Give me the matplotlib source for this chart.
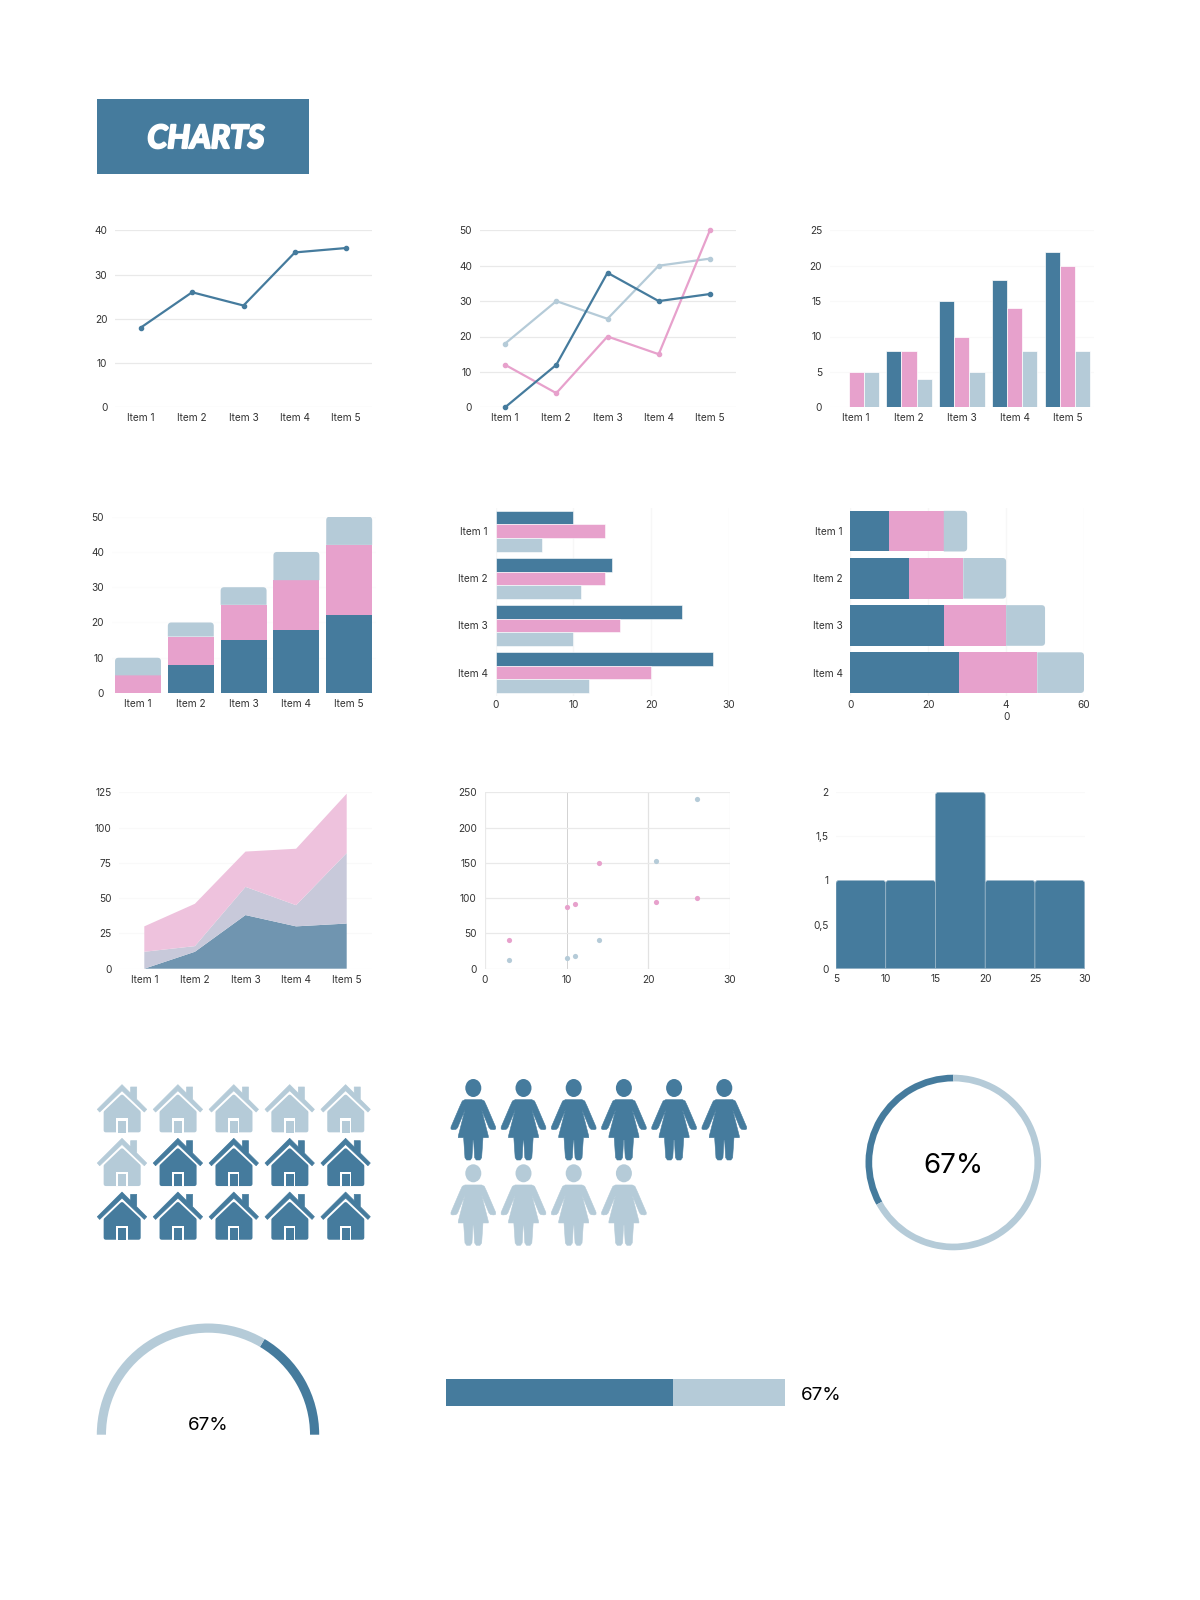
import matplotlib
matplotlib.use("Agg")
import matplotlib.pyplot as plt
import matplotlib.patheffects as pe
from matplotlib.path import Path
from matplotlib.patches import PathPatch, Polygon, Ellipse, Rectangle

W = 1200
H = 1600
DARK = "#457B9D"
PINK = "#E7A1CC"
LIGHT = "#B5CBD8"
TXT = "#333333"

plt.rcParams['font.family'] = ['Inter', 'DejaVu Sans']

items5 = ["Item 1", "Item 2", "Item 3", "Item 4", "Item 5"]
items4 = ["Item 1", "Item 2", "Item 3", "Item 4"]

single = [18, 26, 23, 35, 36]

line_dark = [0, 12, 38, 30, 32]
line_pink = [12, 4, 20, 15, 50]
line_light = [18, 30, 25, 40, 42]

col_dark = [0, 8, 15, 18, 22]
col_pink = [5, 8, 10, 14, 20]
col_light = [5, 4, 5, 8, 8]

hbar_dark = [10, 15, 24, 28]
hbar_pink = [14, 14, 16, 20]
hbar_light = [6, 11, 10, 12]

scatter_x = [3, 10, 11, 14, 21, 26]
scatter_pink = [40, 88, 92, 150, 94, 100]
scatter_light = [12, 15, 18, 40, 153, 240]

hist_left = [5, 10, 15, 20, 25]
hist_counts = [1, 1, 2, 1, 1]

house_light = 6
house_dark = 9
people_dark = 6
people_light = 4

pct_dark = 33
pct_light = 67
bar_dark = 67
bar_light = 33

fig = plt.figure(figsize=(W / 100, H / 100), dpi=100, facecolor="white")


def box(x0, y0, x1, y1):
    return fig.add_axes([x0 / W, 1 - y1 / H, (x1 - x0) / W, (y1 - y0) / H])


def style(ax, xpad=4, ypad=5.5, grid="#E9E9E9", axis="y"):
    for s in ax.spines.values():
        s.set_visible(False)
    ax.tick_params(length=0, labelsize=7.3, labelcolor=TXT)
    ax.tick_params(axis="x", pad=xpad)
    ax.tick_params(axis="y", pad=ypad)
    ax.set_axisbelow(True)
    ax.grid(True, axis=axis, color=grid, lw=0.9)


def round_end(ax, rect, r, horizontal=False):
    # swap a plain bar for one with rounded corners at its far end
    x, y = rect.get_xy()
    w = rect.get_width()
    h = rect.get_height()
    if w == 0 or h == 0:
        return
    bb = ax.get_window_extent()
    xl = ax.get_xlim()
    yl = ax.get_ylim()
    rx = r * abs(xl[1] - xl[0]) / bb.width
    ry = r * abs(yl[1] - yl[0]) / bb.height
    L = Path.LINETO
    C = Path.CURVE3
    if horizontal:
        v = [(x, y), (x + w - rx, y), (x + w, y), (x + w, y + ry), (x + w, y + h - ry),
             (x + w, y + h), (x + w - rx, y + h), (x, y + h), (x, y)]
    else:
        v = [(x + w, y), (x + w, y + h - ry), (x + w, y + h), (x + w - rx, y + h), (x + rx, y + h),
             (x, y + h), (x, y + h - ry), (x, y), (x + w, y)]
    codes = [Path.MOVETO, L, C, C, L, C, C, L, Path.CLOSEPOLY]
    ax.add_patch(PathPatch(Path(v, codes), fc=rect.get_facecolor(), ec=rect.get_edgecolor(),
                           lw=rect.get_linewidth(), zorder=rect.get_zorder()))
    rect.set_visible(False)


# background layer in pixel coordinates
bg = fig.add_axes([0, 0, 1, 1])
bg.set_xlim(0, W)
bg.set_ylim(H, 0)
bg.axis("off")

bg.add_patch(Rectangle((96.7, 99.3), 212, 74.7, fc=DARK, ec="none"))
title = bg.text(206, 138.5, "CHARTS", color="white", fontsize=23, family="Lato", weight="bold",
                style="italic", ha="center", va="center")
title.set_path_effects([pe.withStroke(linewidth=1.6, foreground="white")])

# 1 single line
ax = box(115, 230.3, 372, 407.3)
style(ax)
ax.plot(range(5), single, color=DARK, lw=1.6, marker="o", ms=3)
ax.set_xlim(-0.5, 4.5)
ax.set_ylim(0, 40)
ax.set_yticks([0, 10, 20, 30, 40])
ax.set_xticks(range(5), items5)

# 2 three lines
ax = box(479.5, 230.3, 735.5, 407.3)
style(ax)
ax.plot(range(5), line_light, color=LIGHT, lw=1.6, marker="o", ms=3, clip_on=False)
ax.plot(range(5), line_pink, color=PINK, lw=1.6, marker="o", ms=3, clip_on=False)
ax.plot(range(5), line_dark, color=DARK, lw=1.6, marker="o", ms=3, clip_on=False)
ax.set_xlim(-0.5, 4.5)
ax.set_ylim(0, 50)
ax.set_yticks([0, 10, 20, 30, 40, 50])
ax.set_xticks(range(5), items5)

# 3 grouped columns
ax = box(829.8, 230.3, 1093.8, 407.3)
style(ax, grid="#F9F9F9")
bw = 0.288
for j, (vals, c) in enumerate([(col_dark, DARK), (col_pink, PINK), (col_light, LIGHT)]):
    ax.bar([i + (j - 1) * bw for i in range(5)], vals, bw, color=c, edgecolor="white", lw=0.5)
ax.set_xlim(-0.5, 4.5)
ax.set_ylim(0, 25)
ax.set_yticks([0, 5, 10, 15, 20, 25])
ax.set_xticks(range(5), items5)

# 4 stacked columns
ax = box(111.6, 516.7, 375.6, 693)
style(ax, grid="#FCFCFC")
ax.set_xlim(-0.5, 4.5)
ax.set_ylim(0, 50)
base2 = [a + b for a, b in zip(col_dark, col_pink)]
ax.bar(range(5), col_dark, 0.87, color=DARK)
ax.bar(range(5), col_pink, 0.87, bottom=col_dark, color=PINK)
top = ax.bar(range(5), col_light, 0.87, bottom=base2, color=LIGHT)
for r in top:
    round_end(ax, r, 3.5)
ax.set_yticks([0, 10, 20, 30, 40, 50])
ax.set_xticks(range(5), items5)

# 5 grouped horizontal bars
ax = box(495.6, 507.6, 729, 696.2)
style(ax, xpad=2.5, grid="#F7F7F7", axis="x")
bh = 0.2875
for j, (vals, c) in enumerate([(hbar_dark, DARK), (hbar_pink, PINK), (hbar_light, LIGHT)]):
    ax.barh([i + (j - 1) * bh for i in range(4)], vals, bh, color=c, edgecolor="white", lw=0.4)
ax.set_xlim(0, 30)
ax.set_ylim(3.5, -0.5)
ax.set_xticks([0, 10, 20, 30])
ax.set_yticks(range(4), items4)

# 6 stacked horizontal bars
ax = box(850.3, 507.6, 1084, 696.2)
style(ax, xpad=2.5, grid="#F7F7F7", axis="x")
ax.set_xlim(0, 60)
ax.set_ylim(3.5, -0.5)
left2 = [a + b for a, b in zip(hbar_dark, hbar_pink)]
ax.barh(range(4), hbar_dark, 0.862, color=DARK)
ax.barh(range(4), hbar_pink, 0.862, left=hbar_dark, color=PINK)
end = ax.barh(range(4), hbar_light, 0.862, left=left2, color=LIGHT)
for r in end:
    round_end(ax, r, 3.5, horizontal=True)
ax.set_xticks([0, 20, 40, 60], ["0", "20", "4\n0", "60"])
ax.set_yticks(range(4), items4)
ax.get_xticklabels()[2].set_linespacing(1.35)

# 7 stacked area
ax = box(119, 792.3, 372, 968.7)
style(ax, xpad=4.6, grid="#F9F9F9")
ax.stackplot(range(5), line_dark, line_pink, line_light,
             colors=["#7095B0", "#C8C9DA", "#EEC2DD"], lw=0)
ax.set_xlim(-0.5, 4.5)
ax.set_ylim(0, 125)
ax.set_yticks([0, 25, 50, 75, 100, 125])
ax.set_xticks(range(5), items5)

# 8 scatter
ax = box(485, 792.3, 729.6, 968.7)
style(ax, xpad=4.6, ypad=6, axis="both", grid="#E9E9E9")
ax.scatter(scatter_x, scatter_light, s=14, color=LIGHT, zorder=3, lw=0)
ax.scatter(scatter_x, scatter_pink, s=14, color=PINK, zorder=3, lw=0)
ax.set_xlim(0, 30)
ax.set_ylim(0, 250)
ax.set_xticks([0, 10, 20, 30])
ax.set_yticks([0, 50, 100, 150, 200, 250])
ax.get_xgridlines()[1].set_color("#D2D2D2")
ax.get_xgridlines()[1].set_linewidth(0.7)
ax.get_xgridlines()[2].set_color("#E2E2E2")

# 9 histogram
ax = box(836, 792.3, 1084.7, 968.7)
style(ax, grid="#F9F9F9")
ax.set_xlim(5, 30)
ax.set_ylim(0, 2)
hist = ax.bar(hist_left, hist_counts, 5, align="edge", color=DARK, edgecolor="#9DB9CB", lw=0.5)
for r in hist:
    round_end(ax, r, 3)
ax.set_xticks([5, 10, 15, 20, 25, 30])
ax.set_yticks([0, 0.5, 1, 1.5, 2], ["0", "0,5", "1", "1,5", "2"])


# pictograms, shapes measured on a 3x zoom
def house(cx, top, color):
    def px(x, y):
        return (cx + (x - 126) / 3, top + (y - 15) / 3)
    roof = [(126, 14), (152, 40), (152, 21), (170, 21), (170, 58), (200, 88), (193, 96),
            (126, 32), (59, 96), (52, 88)]
    body = [(126, 50), (176, 97), (176, 151), (77, 151), (77, 97)]
    bg.add_patch(Polygon([px(*p) for p in roof], fc=color, ec=color, lw=0.5, joinstyle="round"))
    bg.add_patch(Polygon([px(*p) for p in body], fc=color, ec=color, lw=2.9, joinstyle="round"))
    bg.add_patch(Polygon([px(*p) for p in [(109, 115), (143, 115), (143, 158), (109, 158)]], fc="white", ec="none"))
    bg.add_patch(Polygon([px(*p) for p in [(115, 122), (138, 122), (138, 158), (115, 158)]], fc=color, ec="none"))


def person(cx, head_y, color):
    half = [(0, 316), (25, 316), (33, 320), (40, 335), (67, 398), (67, 404), (62, 406), (52, 405),
            (47, 400), (25, 347), (45, 425), (45, 430), (29, 430), (25, 490), (20, 497), (9, 497),
            (4, 490), (1, 437)]
    pts = half + [(-x, y) for x, y in reversed(half[1:])]
    bg.add_patch(Polygon([(cx + x / 3, head_y + (y - 281) / 3) for x, y in pts],
                         fc=color, ec=color, lw=0.4, joinstyle="round"))
    bg.add_patch(Ellipse((cx, head_y), 16, 18, fc=color, ec="none"))


house_cols = [LIGHT] * house_light + [DARK] * house_dark
for n, c in enumerate(house_cols):
    house(122 + 55.9 * (n % 5), 1085 + 53.7 * (n // 5), c)

person_cols = [DARK] * people_dark + [LIGHT] * people_light
for n, c in enumerate(person_cols):
    person(473.3 + 50.2 * (n % 6), 1088 + 85.3 * (n // 6), c)

# donut
ax = box(865.3, 1074.7, 1041.3, 1250.3)
ax.pie([pct_dark, pct_light], colors=[DARK, LIGHT], startangle=90, radius=1,
       wedgeprops={"width": 6.7 / 88, "clip_on": False, "lw": 0})
ax.set_xlim(-1, 1)
ax.set_ylim(-1, 1)
ax.patch.set_alpha(0)
bg.text(953, 1163, "67%", color="black", fontsize=20, ha="center", va="center_baseline")

# half gauge
ax = box(96.8, 1323.5, 319.2, 1545.9)
ax.pie([pct_dark, pct_light, pct_dark + pct_light], colors=[DARK, LIGHT, "none"], startangle=0, radius=1,
       wedgeprops={"width": 9.2 / 111.2, "clip_on": False, "lw": 0})
ax.set_xlim(-1, 1)
ax.set_ylim(-1, 1)
ax.patch.set_alpha(0)
bg.text(208.5, 1424, "67%", color="black", fontsize=13.5, ha="center", va="center_baseline")

# progress bar
ax = box(446.3, 1379.3, 785.1, 1405.7)
ax.barh([0], [bar_dark], 1, color=DARK)
ax.barh([0], [bar_light], 1, left=[bar_dark], color=LIGHT)
ax.set_xlim(0, bar_dark + bar_light)
ax.set_ylim(-0.5, 0.5)
ax.axis("off")
bg.text(821.5, 1393, "67%", color="black", fontsize=13.5, ha="center", va="center_baseline")

fig.savefig("out.png", dpi=100, facecolor="white")
